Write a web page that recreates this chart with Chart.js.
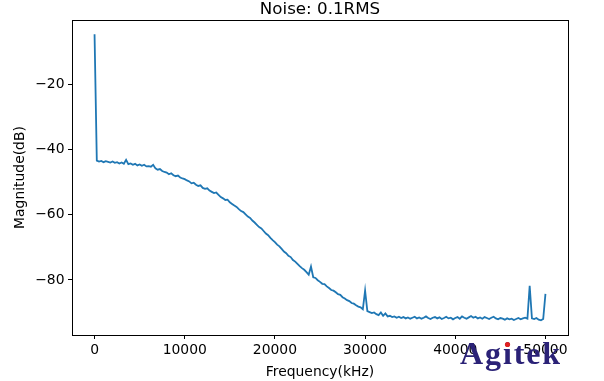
<!DOCTYPE html>
<html><head><meta charset="utf-8">
<script src="https://cdn.jsdelivr.net/npm/chart.js@4"></script>
<style>html,body{margin:0;padding:0;background:#fff}#wrap{width:604px;height:381px;position:relative}</style>
</head><body><div id="wrap"><canvas id="c" width="604" height="381"></canvas></div>
<script>
const chartTitle = 'Noise: 0.1RMS';
const xLabel = 'Frequency(kHz)';
const yLabel = 'Magnitude(dB)';
const watermark = 'Agitek';

const freqKHz = [
  0,250,500,750,1000,1250,1500,1750,
  2000,2250,2500,2750,3000,3250,3500,3750,
  4000,4250,4500,4750,5000,5250,5500,5750,
  6000,6250,6500,6750,7000,7250,7500,7750,
  8000,8250,8500,8750,9000,9250,9500,9750,
  10000,10250,10500,10750,11000,11250,11500,11750,
  12000,12250,12500,12750,13000,13250,13500,13750,
  14000,14250,14500,14750,15000,15250,15500,15750,
  16000,16250,16500,16750,17000,17250,17500,17750,
  18000,18250,18500,18750,19000,19250,19500,19750,
  20000,20250,20500,20750,21000,21250,21500,21750,
  22000,22250,22500,22750,23000,23250,23500,23750,
  24000,24250,24500,24750,25000,25250,25500,25750,
  26000,26250,26500,26750,27000,27250,27500,27750,
  28000,28250,28500,28750,29000,29250,29500,29750,
  30000,30250,30500,30750,31000,31250,31500,31750,
  32000,32250,32500,32750,33000,33250,33500,33750,
  34000,34250,34500,34750,35000,35250,35500,35750,
  36000,36250,36500,36750,37000,37250,37500,37750,
  38000,38250,38500,38750,39000,39250,39500,39750,
  40000,40250,40500,40750,41000,41250,41500,41750,
  42000,42250,42500,42750,43000,43250,43500,43750,
  44000,44250,44500,44750,45000,45250,45500,45750,
  46000,46250,46500,46750,47000,47250,47500,47750,
  48000,48250,48500,48750,49000,49250,49500,49750,
  50000
];

const magnitudeDB = [
  -4.7,-43.4,-43.7,-43.5,-43.9,-43.6,-43.8,-44.0,
  -43.7,-44.1,-43.9,-44.3,-44.0,-44.4,-43.2,-44.5,
  -44.3,-44.7,-44.4,-44.9,-44.6,-45.0,-44.7,-45.2,
  -45.1,-45.3,-44.7,-45.8,-46.2,-46.0,-46.6,-46.9,
  -47.1,-47.6,-47.3,-47.9,-48.2,-48.0,-48.6,-48.9,
  -49.1,-49.5,-49.8,-50.4,-50.2,-50.8,-51.2,-51.0,
  -51.8,-52.1,-51.9,-52.6,-53.0,-53.4,-53.2,-53.9,
  -54.6,-55.0,-55.5,-55.4,-56.2,-56.7,-57.2,-57.6,
  -58.3,-58.9,-59.2,-59.9,-60.6,-61.0,-61.8,-62.4,
  -63.1,-63.8,-64.2,-65.0,-65.8,-66.3,-67.1,-67.8,
  -68.4,-69.2,-69.7,-70.5,-71.3,-71.8,-72.6,-73.0,
  -73.9,-74.4,-75.1,-75.8,-76.4,-76.9,-77.6,-78.4,
  -75.9,-79.2,-79.4,-80.1,-80.6,-81.2,-81.3,-82.0,
  -82.5,-83.1,-83.3,-83.8,-84.4,-84.6,-85.3,-85.7,
  -86.2,-86.5,-87.1,-87.3,-87.8,-88.2,-88.4,-89.0,
  -83.3,-89.6,-89.9,-90.2,-90.0,-90.5,-90.8,-90.0,
  -91.0,-90.3,-91.2,-91.0,-91.4,-91.2,-91.6,-91.3,
  -91.7,-91.4,-91.8,-91.5,-91.9,-91.6,-91.3,-91.8,
  -91.5,-91.9,-91.6,-91.2,-91.7,-92.0,-91.6,-91.4,
  -91.8,-91.5,-92.0,-91.7,-91.3,-91.8,-91.6,-92.1,
  -91.7,-91.4,-91.9,-91.2,-91.6,-91.9,-91.5,-91.1,
  -91.6,-91.3,-91.8,-91.5,-91.9,-91.4,-91.7,-92.0,
  -91.6,-91.3,-91.8,-92.1,-91.7,-91.9,-92.2,-91.8,
  -92.1,-91.9,-92.3,-92.0,-91.7,-92.1,-91.8,-91.6,
  -91.9,-81.8,-91.8,-92.0,-91.7,-92.2,-92.4,-92.0,
  -84.3
];

const xTicks = [0, 10000, 20000, 30000, 40000, 50000];
const yTicks = [-80, -60, -40, -20];
const xRange = [-2500, 52500];
const yRange = [-96.9, -0.3];

const FONT = '"DejaVu Sans", sans-serif';

const decor = {
  id: 'decor',
  afterDraw(chart) {
    const { ctx, chartArea: a } = chart;
    ctx.save();
    ctx.strokeStyle = '#000';
    ctx.lineWidth = 1;
    ctx.strokeRect(Math.round(a.left) + 0.5, Math.round(a.top) + 0.5,
                   Math.round(a.right - a.left), Math.round(a.bottom - a.top));
    ctx.fillStyle = '#000';
    ctx.font = '16.7px ' + FONT;
    ctx.textAlign = 'center';
    ctx.textBaseline = 'alphabetic';
    ctx.fillText(chartTitle, (a.left + a.right) / 2, 14);
    ctx.font = 'bold 32px "Liberation Serif", serif';
    ctx.textAlign = 'left';
    ctx.fillStyle = '#2b2277';
    try { ctx.letterSpacing = '1.9px'; } catch (e) {}
    ctx.fillText(watermark, 460, 364);
    ctx.fillStyle = '#e02020';
    ctx.beginPath();
    ctx.arc(507.5, 344.5, 2.6, 0, Math.PI * 2);
    ctx.fill();
    ctx.restore();
  }
};

new Chart(document.getElementById('c'), {
  type: 'line',
  data: {
    datasets: [{
      data: freqKHz.map((f, i) => ({ x: f, y: magnitudeDB[i] })),
      borderColor: '#1f77b4',
      borderWidth: 1.8,
      pointRadius: 0,
      fill: false,
      tension: 0
    }]
  },
  options: {
    responsive: false,
    animation: false,
    devicePixelRatio: 1,
    layout: { padding: { top: 20, right: 36, left: 0, bottom: 0 } },
    plugins: { legend: { display: false }, tooltip: { enabled: false }, title: { display: false } },
    scales: {
      x: {
        type: 'linear',
        min: xRange[0], max: xRange[1],
        afterBuildTicks(s) { s.ticks = xTicks.map(v => ({ value: v })); },
        afterFit(s) { s.height = 46; },
        grid: { drawOnChartArea: false, drawTicks: true, tickLength: 4, tickColor: '#000', tickWidth: 1 },
        border: { display: false },
        ticks: { color: '#000', font: { family: FONT, size: 13.9 }, padding: 3, maxRotation: 0, autoSkip: false,
                 callback: v => String(v) },
        title: { display: true, text: xLabel, color: '#000', font: { family: FONT, size: 13.9 }, padding: { top: 2, bottom: 0 } }
      },
      y: {
        type: 'linear',
        min: yRange[0], max: yRange[1],
        afterBuildTicks(s) { s.ticks = yTicks.map(v => ({ value: v })); },
        afterFit(s) { s.width = 72; },
        grid: { drawOnChartArea: false, drawTicks: true, tickLength: 4, tickColor: '#000', tickWidth: 1 },
        border: { display: false },
        ticks: { color: '#000', font: { family: FONT, size: 13.9 }, padding: 3.5, autoSkip: false,
                 callback: v => String(v).replace('-', '\u2212') },
        title: { display: true, text: yLabel, color: '#000', font: { family: FONT, size: 13.9 }, padding: { top: 11.7, bottom: 0 } }
      }
    }
  },
  plugins: [decor]
});
</script>
</body></html>
